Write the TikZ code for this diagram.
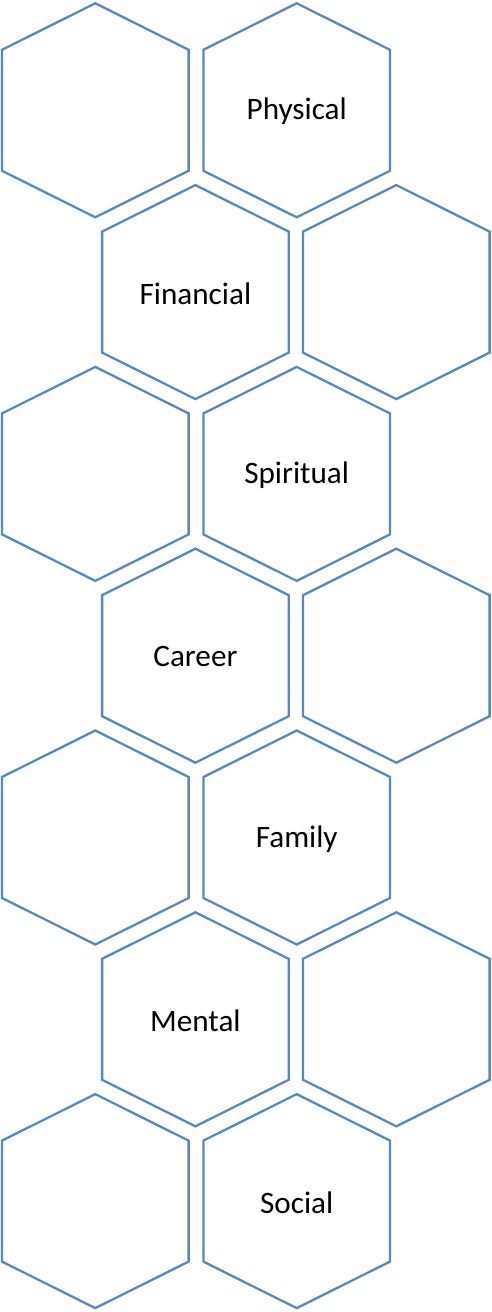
\documentclass[tikz,border=0pt]{standalone}
\usepackage{fontspec}
\setmainfont{Carlito}
\definecolor{hexblue}{RGB}{84,137,197}

\tikzset{
  hexcell/.pic={
    \draw[hexline] (0,-107) -- (93.3,-60.5) -- (93.3,60.5) -- (0,107)
      -- (-93.3,60.5) -- (-93.3,-60.5) -- cycle;
  },
  hexline/.style={draw=hexblue, line width=2.3pt, line join=miter},
  hexlabel/.style={font=\fontsize{31.2}{37}\selectfont, text=black}
}

\begin{document}
\begin{tikzpicture}[x=1pt,y=-1pt]
\useasboundingbox (0,0) rectangle (491,1312);
% row 1
\pic at (95.3,110.3) {hexcell};
\pic at (296.7,110.3) {hexcell};
\node[hexlabel] (physical) at (296.7,111.5) {Physical};
% row 2
\pic at (195.4,292.1) {hexcell};
\pic at (396.3,292.1) {hexcell};
\node[hexlabel] (financial) at (195.4,293.3) {Financial};
% row 3
\pic at (95.3,473.9) {hexcell};
\pic at (296.7,473.9) {hexcell};
\node[hexlabel] (spiritual) at (296.7,475.1) {Spiritual};
% row 4
\pic at (195.4,655.7) {hexcell};
\pic at (396.3,655.7) {hexcell};
\node[hexlabel] (career) at (195.4,656.9) {Career};
% row 5
\pic at (95.3,837.5) {hexcell};
\pic at (296.7,837.5) {hexcell};
\node[hexlabel] (family) at (296.7,838.7) {Family};
% row 6
\pic at (195.4,1019.3) {hexcell};
\pic at (396.3,1019.3) {hexcell};
\node[hexlabel] (mental) at (195.4,1020.5) {Mental};
% row 7
\pic at (95.3,1201.1) {hexcell};
\pic at (296.7,1201.1) {hexcell};
\node[hexlabel] (social) at (296.7,1202.3) {Social};
\end{tikzpicture}
\end{document}
